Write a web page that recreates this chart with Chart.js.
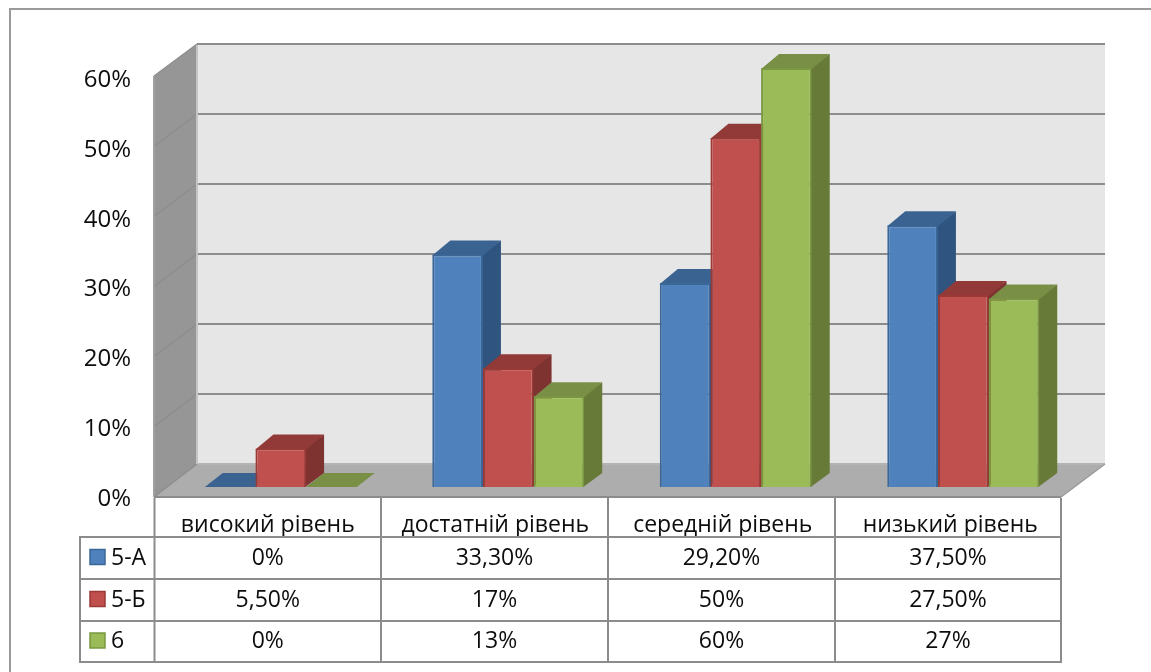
<!DOCTYPE html>
<html><head><meta charset="utf-8">
<style>html,body{margin:0;padding:0;background:#fff}canvas{display:block}</style>
<script src="https://cdn.jsdelivr.net/npm/chart.js@4"></script>
</head><body><div style="width:1151px;height:672px"><canvas id="c" width="1151" height="672"></canvas></div>
<script>
const categories = ['високий рівень','достатній рівень','середній рівень','низький рівень'];
const seriesNames = ['5-А','5-Б','6'];
const valuesA = [0,33.3,29.2,37.5];
const valuesB = [5.5,17,50,27.5];
const valuesC = [0,13,60,27];
const yTicks = [0,10,20,30,40,50,60];
const colors = [
 {front:'#4F81BD',edge:'#3B6796',top:'#3A6391',side:'#2F5480'},
 {front:'#C0504D',edge:'#9A3936',top:'#913A37',side:'#7F3331'},
 {front:'#9BBB59',edge:'#7A9840',top:'#788F45',side:'#687A38'}
];
const FONT = '"Open Sans", sans-serif';
const LABEL = '#0d0d0d';
const GRID = '#8C8C8C';
const fmt = v => Number.isInteger(v) ? v+'%' : v.toFixed(2).replace('.',',')+'%';

const walls = {
 id:'walls',
 beforeDatasetsDraw(chart){
  const {ctx,scales:{x,y}} = chart;
  const fl=154, bl=197, br=1105, fr=1061;
  const backY = v => y.getPixelForValue(v)-23-(v/60);
  const frontY = v => y.getPixelForValue(v)+10-(v/60)*2;
  ctx.save();
  ctx.fillStyle='#E6E6E6';
  ctx.fillRect(bl,backY(60),br-bl,backY(0)-backY(60));
  ctx.fillStyle='#969696';
  ctx.beginPath();ctx.moveTo(fl,frontY(60));ctx.lineTo(bl,backY(60));ctx.lineTo(bl,backY(0));ctx.lineTo(fl,frontY(0));ctx.closePath();ctx.fill();
  ctx.fillStyle='#ADADAD';
  ctx.beginPath();ctx.moveTo(fl,frontY(0));ctx.lineTo(bl,backY(0));ctx.lineTo(br,backY(0));ctx.lineTo(fr,frontY(0));ctx.closePath();ctx.fill();
  ctx.strokeStyle=GRID;
  yTicks.forEach(v=>{
   ctx.lineWidth=2;ctx.beginPath();ctx.moveTo(bl,backY(v));ctx.lineTo(br,backY(v));ctx.strokeStyle=v===0?'#B4B4B4':GRID;ctx.stroke();ctx.strokeStyle=GRID;
   ctx.lineWidth=1.2;ctx.beginPath();ctx.moveTo(bl,backY(v));ctx.lineTo(fl,frontY(v));ctx.stroke();
  });
  ctx.lineWidth=2;ctx.strokeStyle='#A0A0A0';
  ctx.beginPath();ctx.moveTo(fl,frontY(60));ctx.lineTo(fl,frontY(0));ctx.stroke();
  ctx.strokeStyle='#C4C4C4';
  ctx.beginPath();ctx.moveTo(bl,backY(60)+1);ctx.lineTo(bl,backY(0));ctx.stroke();
  ctx.strokeStyle=GRID;
  ctx.beginPath();ctx.moveTo(fl,frontY(0));ctx.lineTo(fr,frontY(0));ctx.stroke();
  ctx.strokeStyle='#9A9A9A';ctx.lineWidth=1.5;
  ctx.beginPath();ctx.moveTo(fr,frontY(0));ctx.lineTo(br,backY(0));ctx.stroke();
  const dx=18, dy=14;
  categories.forEach((_,i)=>{
   chart.data.datasets.forEach((ds,d)=>{
    const b=chart.getDatasetMeta(d).data[i];
    const l=b.x-b.width/2, r=b.x+b.width/2, t=b.y, base=b.base, c=colors[d];
    ctx.fillStyle=c.side;
    ctx.beginPath();ctx.moveTo(r-1,t);ctx.lineTo(r+dx,t-dy);ctx.lineTo(r+dx,base-dy);ctx.lineTo(r-1,base);ctx.closePath();ctx.fill();
    ctx.fillStyle=c.top;
    ctx.beginPath();ctx.moveTo(l,t+(t<base?1:0));ctx.lineTo(l+dx,t-dy);ctx.lineTo(r+dx,t-dy);ctx.lineTo(r,t+(t<base?1:0));ctx.closePath();ctx.fill();
   });
  });
  ctx.restore();
 },
 afterDraw(chart){
  const {ctx} = chart;
  const cols=[154.5,381,608,835,1061], rows=[537,579,621,662], left=80, head=498;
  const series=[valuesA,valuesB,valuesC];
  ctx.save();
  ctx.strokeStyle='#9A9A9A';ctx.lineWidth=2;
  ctx.beginPath();ctx.moveTo(10,672);ctx.lineTo(10,9);ctx.lineTo(1151,9);ctx.stroke();
  ctx.strokeStyle=GRID;ctx.lineWidth=2;
  cols.forEach(cx=>{ctx.beginPath();ctx.moveTo(cx,head);ctx.lineTo(cx,rows[3]);ctx.stroke();});
  ctx.beginPath();ctx.moveTo(left,rows[0]);ctx.lineTo(left,rows[3]);ctx.stroke();
  rows.forEach(ry=>{ctx.beginPath();ctx.moveTo(left-1,ry);ctx.lineTo(cols[4]+1,ry);ctx.stroke();});
  ctx.font='23px '+FONT;ctx.textBaseline='middle';
  series.forEach((vals,r)=>{
   const cy=(rows[r]+rows[r+1])/2;
   ctx.fillStyle=colors[r].front;ctx.strokeStyle=colors[r].edge;ctx.lineWidth=1.5;
   ctx.fillRect(90,cy-8.5,15,15);ctx.strokeRect(90,cy-8.5,15,15);
   ctx.fillStyle=LABEL;ctx.textAlign='left';
   ctx.fillText(seriesNames[r],111,cy);
   ctx.textAlign='center';
   vals.forEach((v,i)=>ctx.fillText(fmt(v),(cols[i]+cols[i+1])/2,cy));
  });
  ctx.restore();
 }
};

new Chart(document.getElementById('c'),{
 type:'bar',
 data:{labels:categories,datasets:[
  {label:seriesNames[0],data:valuesA,backgroundColor:colors[0].front,borderColor:colors[0].edge,borderWidth:2},
  {label:seriesNames[1],data:valuesB,backgroundColor:colors[1].front,borderColor:colors[1].edge,borderWidth:2},
  {label:seriesNames[2],data:valuesC,backgroundColor:colors[2].front,borderColor:colors[2].edge,borderWidth:2}
 ]},
 options:{
  responsive:false,animation:false,
  layout:{padding:{top:68,right:74,left:0,bottom:0}},
  categoryPercentage:0.668,barPercentage:1,
  plugins:{legend:{display:false},title:{display:false},tooltip:{enabled:false}},
  scales:{
   x:{
    grid:{display:false,drawTicks:false},border:{display:false},
    ticks:{color:LABEL,font:{family:FONT,size:23},padding:25,labelOffset:-13,maxRotation:0,autoSkip:false},
    afterFit(s){s.height=185;}
   },
   y:{
    min:0,max:60,
    grid:{display:false,drawTicks:false},border:{display:false},
    ticks:{color:LABEL,font:{family:FONT,size:24},stepSize:10,padding:36,labelOffset:12,callback:v=>v+'%'},
    afterFit(s){s.width=167;}
   }
  }
 },
 plugins:[walls]
});
</script></body></html>
